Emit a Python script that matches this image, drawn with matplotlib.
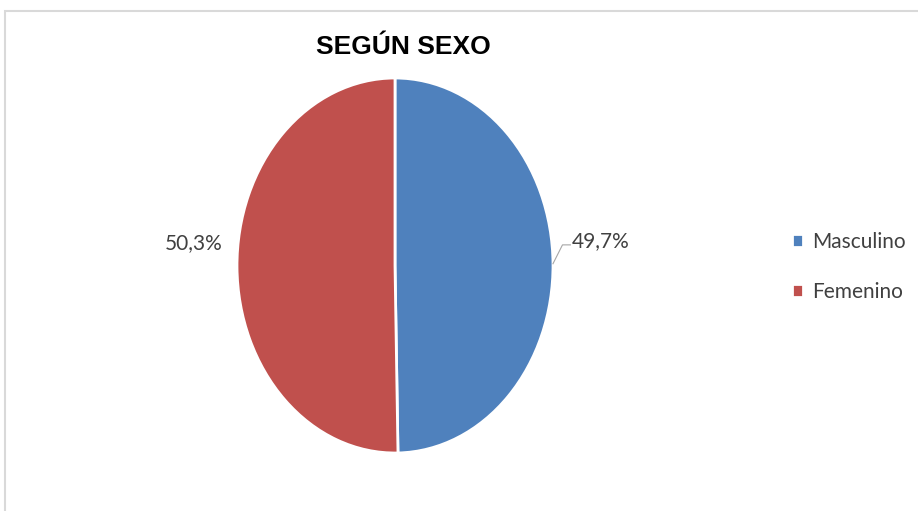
import numpy as np
import matplotlib.pyplot as plt
from matplotlib.patches import Rectangle

# data
categories = ["Masculino", "Femenino"]
values = [49.7, 50.3]
pct_labels = ["49,7%", "50,3%"]
colors = ["#4F81BD", "#C0504D"]

W, H = 918, 511
fig = plt.figure(figsize=(W / 100, H / 100), dpi=100)

# outer chart frame
fig.patches.append(Rectangle((5 / W, -0.01), 1.0, (H - 11) / H + 0.01,
                             transform=fig.transFigure, fill=False,
                             edgecolor="#d9d9d9", linewidth=1.5))

# pie stretched vertically (ellipse)
ax = fig.add_axes([237 / W, (H - 453) / H, 316 / W, 375 / H])
wedges, _ = ax.pie(values, colors=colors, startangle=90, counterclock=False,
                   wedgeprops=dict(edgecolor="white", linewidth=2))
ax.set_aspect("auto")
ax.set_xlim(-1, 1)
ax.set_ylim(-1, 1)
ax.axis("off")

# percentage labels
lab_col = "#404040"
for w, txt in zip(wedges, pct_labels):
    mid = np.deg2rad((w.theta1 + w.theta2) / 2)
    ex, ey = np.cos(mid), np.sin(mid)
    if ex > 0:
        ax.plot([ex, 1.06, 1.11], [ey, 0.11, 0.11], color="#a6a6a6", lw=0.8,
                clip_on=False)
        ax.text(1.12, 0.13, txt, ha="left", va="center", fontsize=15,
                color=lab_col, family="Lato")
    else:
        ax.text(-1.09, 0.12, txt, ha="right", va="center", fontsize=15,
                color=lab_col, family="Lato")

fig.text(403 / W, 1 - 47 / H, "SEGÚN SEXO", ha="center", va="center",
         fontsize=19, fontweight="bold", family="Liberation Sans")

fig.legend(wedges, categories, loc="center left",
           bbox_to_anchor=(773 / W, 1 - 267 / H), frameon=False,
           prop=dict(family="Lato", size=15), labelcolor=lab_col,
           handlelength=0.55, handleheight=0.55, handletextpad=0.45,
           labelspacing=1.45)

fig.savefig("out.png", dpi=100, facecolor="white")
